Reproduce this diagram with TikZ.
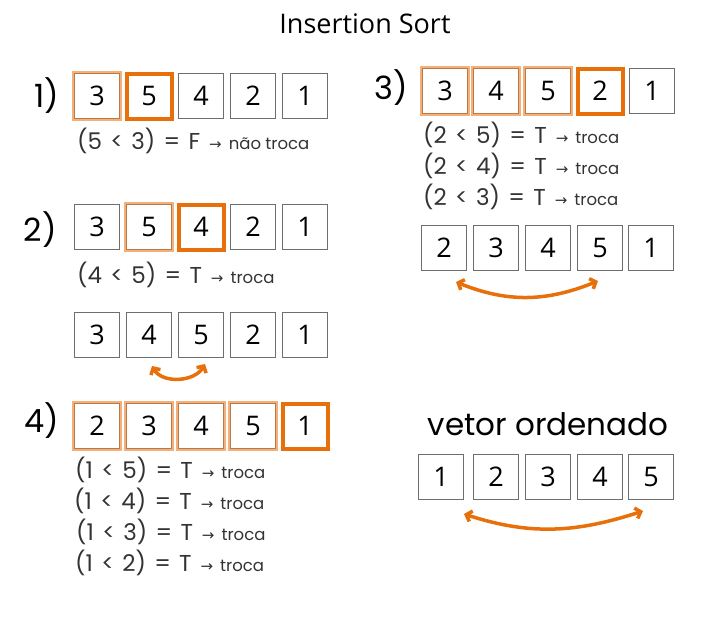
\documentclass[tikz,border=0pt]{standalone}
\usepackage{fontspec}
\setmainfont{Poppins}
\newfontfamily\boxfont{Open Sans}
\newfontfamily\arrfont{DejaVu Sans}
\newfontfamily\cmpfont{Poppins}[WordSpace=1.35]
\usetikzlibrary{arrows.meta}
\definecolor{curor}{HTML}{E8700A}
\definecolor{doneor}{HTML}{F5B07A}
\definecolor{donebr}{HTML}{B97A48}
\definecolor{boxgr}{HTML}{6E6E6E}
\definecolor{txtgr}{HTML}{333333}
\newcommand\cmpline[2]{#1\hspace{9pt}{\arrfont\fontsize{15}{15}\selectfont →}\hspace{7pt}{\normalfont\fontsize{16.5}{16.5}\selectfont #2}}
\tikzset{
  cell/.style={minimum width=45pt, minimum height=45pt, inner sep=0pt, fill=white,
    font=\boxfont\fontsize{27}{27}\selectfont},
  plain/.style={cell, draw=boxgr, line width=1.3pt},
  cur/.style={cell, draw=curor, line width=4pt},
  done/.style={cell, draw=donebr, line width=0.8pt, preaction={draw=doneor, line width=4.2pt}},
  txt/.style={anchor=base west, inner sep=0pt, text=txtgr, font=\cmpfont\fontsize{23}{23}\selectfont},
  lbl/.style={anchor=base east, inner sep=0pt, font=\fontsize{32}{32}\selectfont},
  swaparrow/.style={draw=curor, line width=3.5pt, line cap=round,
    {Straight Barb[length=5pt,width=11pt]}-{Straight Barb[length=5pt,width=11pt]}}
}
\begin{document}
\begin{tikzpicture}[x=1pt,y=-1pt]
\useasboundingbox (0,0) rectangle (722,616);
\node[anchor=center, font=\boxfont\fontsize{27}{27}\selectfont] (title) at (365,24) {Insertion Sort};

% Row 1
\node[lbl] (l1) at (59,107) {1)};
\node[done]  (a1) at (97,96) {3};
\node[cur]   (a2) at (149,96) {5};
\node[plain] (a3) at (201,96) {4};
\node[plain] (a4) at (253,96) {2};
\node[plain] (a5) at (305,96) {1};
\node[txt] (ta) at (77,149) {\cmpline{(5 < 3) = F}{não troca}};

% Row 2
\node[lbl] (l2) at (57,241) {2)};
\node[plain] (b1) at (97,227) {3};
\node[done]  (b2) at (149,227) {5};
\node[cur]   (b3) at (201,227) {4};
\node[plain] (b4) at (253,227) {2};
\node[plain] (b5) at (305,227) {1};
\node[txt] (tb) at (77,283) {\cmpline{(4 < 5) = T}{troca}};

\node[plain] (c1) at (97,335) {3};
\node[plain] (c2) at (149,335) {4};
\node[plain] (c3) at (201,335) {5};
\node[plain] (c4) at (253,335) {2};
\node[plain] (c5) at (305,335) {1};
\coordinate (cs) at (152,366);
\coordinate (ce) at (205,364);
\draw[swaparrow] (cs) to[out=-60,in=-120] (ce);

% Row 3
\node[lbl] (l3) at (408,99) {3)};
\node[done]  (d1) at (445,91) {3};
\node[done]  (d2) at (496,91) {4};
\node[done]  (d3) at (548,91) {5};
\node[cur]   (d4) at (600,91) {2};
\node[plain] (d5) at (652,91) {1};
\node[txt] (td1) at (423,143) {\cmpline{(2 < 5) = T}{troca}};
\node[txt] (td2) at (423,174) {\cmpline{(2 < 4) = T}{troca}};
\node[txt] (td3) at (423,205) {\cmpline{(2 < 3) = T}{troca}};

\node[plain] (e1) at (444,248) {2};
\node[plain] (e2) at (496,248) {3};
\node[plain] (e3) at (548,248) {4};
\node[plain] (e4) at (600,248) {5};
\node[plain] (e5) at (651,248) {1};
\coordinate (es) at (456,282);
\coordinate (ee) at (598,281);
\draw[swaparrow] (es) to[out=-22,in=-158] (ee);

% Row 4
\node[lbl] (l4) at (59,432) {4)};
\node[done]  (f1) at (97,426) {2};
\node[done]  (f2) at (149,426) {3};
\node[done]  (f3) at (201,426) {4};
\node[done]  (f4) at (253,426) {5};
\node[cur]   (f5) at (305,426) {1};
\node[txt] (tf1) at (75,478) {\cmpline{(1 < 5) = T}{troca}};
\node[txt] (tf2) at (74,509) {\cmpline{(1 < 4) = T}{troca}};
\node[txt] (tf3) at (76,540) {\cmpline{(1 < 3) = T}{troca}};
\node[txt] (tf4) at (75,571) {\cmpline{(1 < 2) = T}{troca}};

% Sorted
\node[anchor=center, font=\fontsize{31}{31}\selectfont] (vo) at (548,424) {vetor ordenado};
\node[plain] (g1) at (441,477) {1};
\node[plain] (g2) at (496,477) {2};
\node[plain] (g3) at (548,477) {3};
\node[plain] (g4) at (600,477) {4};
\node[plain] (g5) at (651,477) {5};
\coordinate (gs) at (464,514);
\coordinate (ge) at (643,511);
\draw[swaparrow] (gs) to[out=-18,in=-162] (ge);
\end{tikzpicture}
\end{document}
